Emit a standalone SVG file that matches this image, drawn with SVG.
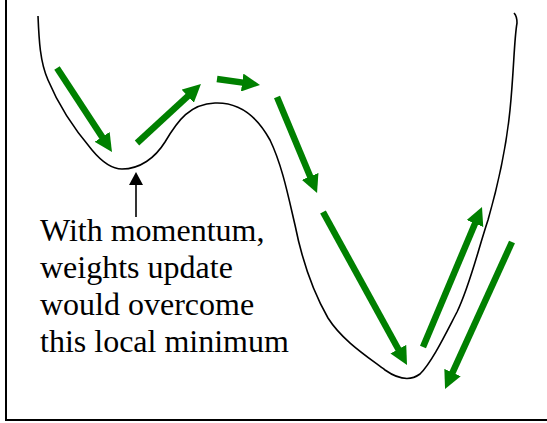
<svg xmlns="http://www.w3.org/2000/svg" width="547" height="423" viewBox="0 0 547 423">
<style>
.axis{stroke:#000;stroke-width:2;fill:none}
.curve{stroke:#000;stroke-width:1.6;fill:none;stroke-linejoin:round}
.g{stroke:#008000;stroke-width:6.5;fill:none;marker-end:url(#gh)}
text{font-family:'Liberation Serif','Times New Roman',Times,serif;font-size:32px;fill:#000}
</style>
<defs>
<marker id="gh" markerUnits="userSpaceOnUse" markerWidth="18" markerHeight="18" refX="8" refY="9" orient="auto" viewBox="0 0 18 18">
<path d="M0,0 L18,9 L0,18 z" fill="#008000"/>
</marker>
<marker id="bh" markerUnits="userSpaceOnUse" markerWidth="13" markerHeight="14" refX="3" refY="7" orient="auto" viewBox="0 0 13 14">
<path d="M0,0 L13,7 L0,14 z" fill="#000"/>
</marker>
</defs>
<g id="axes">
<line class="axis" x1="6" y1="0" x2="6" y2="421"/>
<line class="axis" x1="5" y1="420" x2="547" y2="420"/>
</g>
<g id="curve">
<path class="curve" d="M38,16 C39,40 40,62 48,80 C58,104 75,130 92,150 C102,162 112,169 122,169 C140,169 155,158 165,142 C178,120 190,104 215,103 C240,102 258,118 270,140 C282,165 288,195 295,225 C302,260 312,290 328,318 C342,340 365,355 385,370 C395,377 408,383 420,374 C432,362 445,335 457,312 C470,285 478,250 488,220 C498,185 506,150 510,110 C514,70 514,40 517,23 C517,18 516,15 514,13"/>
</g>
<g id="connectors">
<line class="g" x1="57" y1="68" x2="106.5" y2="143.6"/>
<line class="g" x1="137" y1="143" x2="193.6" y2="90.8"/>
<line class="g" x1="217" y1="79" x2="250.1" y2="83.6"/>
<line class="g" x1="277" y1="97" x2="313.2" y2="183.8"/>
<line class="g" x1="323" y1="212" x2="402.2" y2="356.2"/>
<line class="g" x1="423" y1="347" x2="478.1" y2="216.2"/>
<line class="g" x1="512" y1="242" x2="449.2" y2="379.9"/>
<line stroke="#000" stroke-width="1.6" x1="136" y1="217" x2="136" y2="182" marker-end="url(#bh)"/>
</g>
<g id="label">
<text x="40" y="241">With momentum,</text>
<text x="40" y="278">weights update</text>
<text x="40" y="315">would overcome</text>
<text x="40" y="352">this local minimum</text>
</g>
</svg>
